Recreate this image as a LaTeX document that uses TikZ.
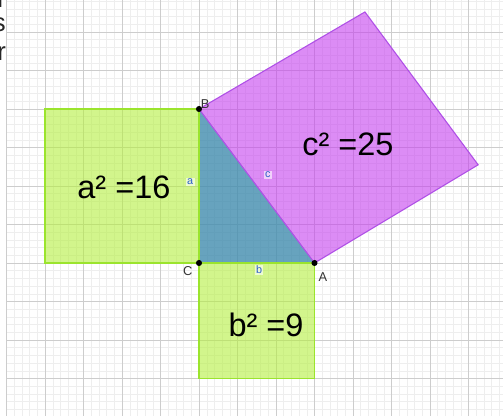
\documentclass[tikz,border=0pt]{standalone}
\usepackage{fontspec}
\setmainfont{Liberation Sans}
\usepackage{tikz}

\definecolor{limefill}{RGB}{180,238,63}
\definecolor{limeedge}{RGB}{155,228,45}
\definecolor{violetfill}{RGB}{197,63,238}
\definecolor{violetedge}{RGB}{175,80,230}
\definecolor{trifill}{RGB}{65,140,174}
\definecolor{minorgray}{RGB}{238,238,238}
\definecolor{majorgray}{RGB}{205,205,205}
\definecolor{segblue}{RGB}{45,95,200}

\begin{document}
\begin{tikzpicture}[
            minorgrid/.style={color=minorgray, line width=0.3pt},
            majorgrid/.style={color=majorgray, line width=0.5pt},
            limesquare/.style={fill=limefill, fill opacity=0.6, draw=limeedge, draw opacity=1, line width=0.8pt},
            violetsquare/.style={fill=violetfill, fill opacity=0.6, draw=violetedge, draw opacity=1, line width=0.8pt},
            trianglefill/.style={fill=trifill, fill opacity=0.8},
            vertex/.style={circle, fill=black, inner sep=0pt, minimum size=4.5pt},
            vertexlabel/.style={font=\fontsize{9.5}{11}\selectfont, color=black!80, inner sep=1pt},
            sidelabel/.style={font=\fontsize{8}{9}\selectfont, color=segblue, fill=white, fill opacity=0.6, text opacity=1, inner sep=1pt},
            arealabel/.style={font=\fontsize{24}{28}\selectfont, color=black},
            edgetext/.style={font=\fontsize{19}{22}\selectfont, color=black!85, anchor=base east, inner sep=0pt, text height=1.2ex, text depth=0pt}
        ]
            % page size
            \useasboundingbox (-5.169, -3.974) rectangle (7.896, 6.831);

            % grid
            \draw[minorgrid] (-5, -3.974) grid[step=0.2] (7.896, 6.831);
            \draw[majorgrid] (-5, -3.974) grid[step=1] (7.896, 6.831);

            % cut text at the left edge
            \node[edgetext] (cutr) at (-5.01, 6.64) {r};
            \node[edgetext] (cuts) at (-5.01, 6.0) {s};
            \node[edgetext] (cutrr) at (-5.01, 5.27) {r};

            % points
            \coordinate (C) at (0, 0);
            \coordinate (B) at (0, 4);
            \coordinate (A) at (3, 0);
            \coordinate (T) at (4.31, 6.52);
            \coordinate (R) at (7.25, 2.55);

            % triangle
            \fill[trianglefill] (C) -- (A) -- (B) -- cycle;

            % squares on the sides
            \draw[limesquare] (-4, 0) rectangle (B);
            \draw[limesquare] (C) rectangle (3, -3);
            \draw[violetsquare] (B) -- (A) -- (R) -- (T) -- cycle;

            % vertices
            \node[vertex] (pB) at (B) {};
            \node[vertex] (pC) at (C) {};
            \node[vertex] (pA) at (A) {};
            \node[vertexlabel] (labB) at (0.16, 4.13) {B};
            \node[vertexlabel] (labC) at (-0.29, -0.21) {C};
            \node[vertexlabel] (labA) at (3.22, -0.36) {A};

            % sides
            \node[sidelabel] (laba) at (-0.23, 2.10) {a};
            \node[sidelabel] (labb) at (1.56, -0.18) {b};
            \node[sidelabel] (labc) at (1.79, 2.29) {c};

            % areas
            \node[arealabel] (areaa) at (-1.95, 1.97) {a² =16};
            \node[arealabel] (areab) at (1.74, -1.61) {b² =9};
            \node[arealabel] (areac) at (3.87, 3.07) {c² =25};

        \end{tikzpicture}
\end{document}
